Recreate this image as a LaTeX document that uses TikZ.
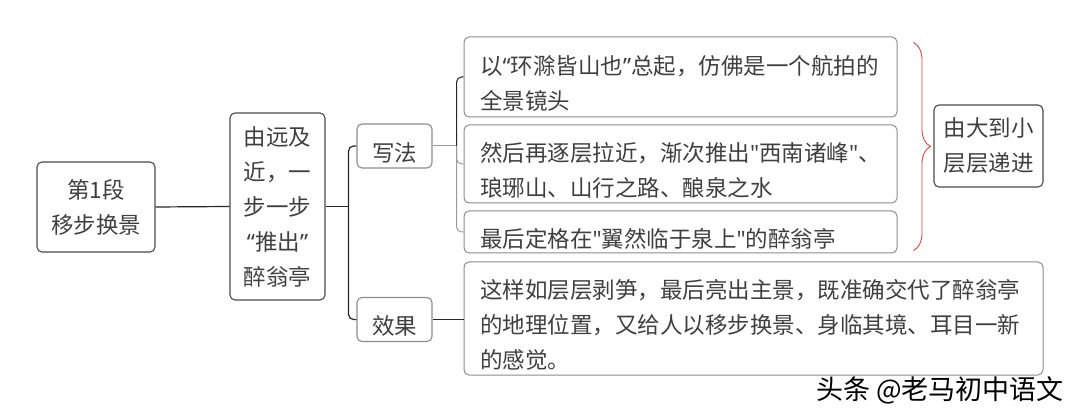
\documentclass[tikz,border=0pt]{standalone}
\usepackage{fontspec}
\setmainfont{Noto Sans CJK SC}[Ligatures=TeXOff]
\newfontfamily\quotefont{Noto Sans}[Ligatures=TeXOff]
\usepackage{tikz}
\usetikzlibrary{
    decorations.pathreplacing,
    calc,
    positioning
}
\definecolor{textgray}{HTML}{3F3F3F}
\definecolor{framedark}{HTML}{4A4A4A}
\definecolor{framelight}{HTML}{8C8C8C}
\definecolor{linkgray}{HTML}{9A9A9A}
\definecolor{bracered}{HTML}{D8474A}
\newcommand{\qopen}{{\quotefont “}}
\newcommand{\qclose}{{\quotefont ”}}
\newcommand{\qstraight}{{\quotefont "}}

\begin{document}
\begin{tikzpicture}[x=1pt, y=1pt,
        every node/.style={text=textgray, font=\fontsize{22.5}{35}\selectfont},
        lowered/.style={execute at begin node={\rule{0pt}{#1}}},
        lowered/.default=32pt,
        mainbox/.style={draw=framedark, line width=1.1pt, rounded corners=5pt, align=center, inner sep=0pt},
        leafbox/.style={draw=framelight, line width=1pt, rounded corners=5pt, align=left, inner xsep=16pt, inner ysep=0pt, text width=#1, lowered},
        link/.style={draw=black!85, line width=1.2pt, rounded corners=5pt},
        lightlink/.style={draw=linkgray, line width=1pt, rounded corners=5pt}
    ]
                        \useasboundingbox (0, 0) rectangle (1080, 413);
                        \node[mainbox, lowered=40pt, minimum width=118, minimum height=90] (duan) at (96, 206) {第1段\\移步换景};
                        \node[mainbox, lowered=44pt, minimum width=95, minimum height=187] (tuichu) at (277.5, 206.5) {由远及\\近，一\\步一步\\\qopen 推出\qclose\\醉翁亭};
                        \node[mainbox, lowered, draw=framelight, minimum width=75, minimum height=44] (xiefa) at (394.5, 267) {写法};
                        \node[mainbox, lowered, draw=framelight, minimum width=75, minimum height=44] (xiaoguo) at (394.5, 93.5) {效果};
                        \node[leafbox=401, minimum height=80] (quanjing) at (680.5, 336) {以\qopen 环滁皆山也\qclose 总起，仿佛是一个航拍的\\全景镜头};
                        \node[leafbox=401, minimum height=78] (lajin) at (680.5, 249) {然后再逐层拉近，渐次推出\qstraight 西南诸峰\qstraight 、\\琅琊山、山行之路、酿泉之水};
                        \node[leafbox=401, minimum height=42] (dingge) at (680.5, 181) {最后定格在\qstraight 翼然临于泉上\qstraight 的醉翁亭};
                        \node[leafbox=547, minimum height=113] (xiaoguotext) at (753.5, 94.5) {这样如层层剥笋，最后亮出主景，既准确交代了醉翁亭\\的地理位置，又给人以移步换景、身临其境、耳目一新\\的感觉。};
                        \node[mainbox, lowered, minimum width=109, minimum height=82] (dijin) at (988.5, 267) {由大到小\\层层递进};
                        \node[text=black, font=\fontsize{27}{30}\selectfont] (toutiao) at (940, 23) {头条 @老马初中语文};
                        \coordinate (fork1) at ($(tuichu.east)+(23, 0)$);
                        \coordinate (fork2) at ($(xiefa.east)+(24, 0)$);
                        \draw[link] (duan.east) -- (tuichu.west);
                        \draw[link] (tuichu.east) -- (fork1);
                        \draw[link] (fork1) |- (xiefa.west);
                        \draw[link] (fork1) |- (xiaoguo.west);
                        \draw[lightlink] (xiefa.east) -- (fork2);
                        \draw[link, line width=1pt] (fork2) |- (quanjing.west);
                        \draw[lightlink] (fork2) |- (lajin.west);
                        \draw[lightlink] (fork2) |- (dingge.west);
                        \draw[link] (xiaoguo.east) -- (xiaoguo.east -| xiaoguotext.west);
                        \draw[bracered, line width=0.9pt, decorate, decoration={brace, amplitude=17pt}]
                        ($(quanjing.north east)+(16, -6)$) -- ($(dingge.south east)+(16, 3)$);
                    \end{tikzpicture}
\end{document}
